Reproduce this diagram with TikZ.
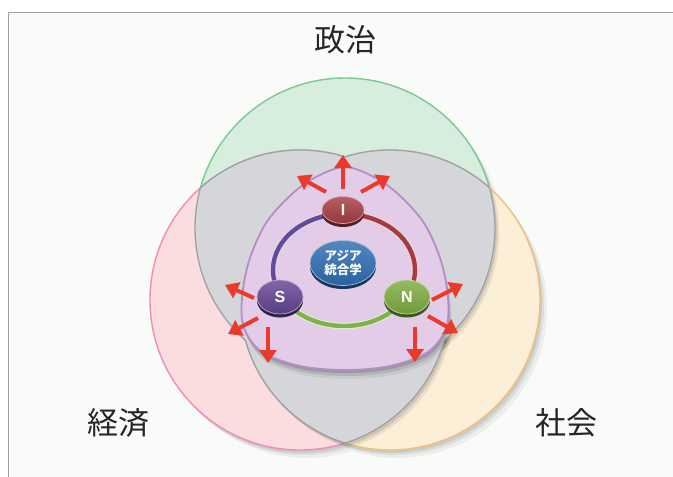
\documentclass[tikz,border=0pt]{standalone}
\usepackage{fontspec}
\newfontfamily\cjk{Noto Sans CJK JP}
\newfontfamily\lat{Liberation Sans}
\usetikzlibrary{arrows.meta,shapes.geometric}
\definecolor{frameLine}{HTML}{A0A0A0}
\definecolor{bgc}{HTML}{F9FBF9}
\definecolor{greenFill}{HTML}{D7EEDC}
\definecolor{greenLine}{HTML}{7DC892}
\definecolor{pinkFill}{HTML}{FBDDE0}
\definecolor{pinkLine}{HTML}{EE8DB9}
\definecolor{orangeFill}{HTML}{FCEFD8}
\definecolor{orangeLine}{HTML}{F2BE78}
\definecolor{grayFill}{HTML}{D5D6DA}
\definecolor{grayLine}{HTML}{9FA0A4}
\definecolor{purpleFill}{HTML}{E3CCE7}
\definecolor{purpleLine}{HTML}{B48CC8}
\definecolor{Icol}{HTML}{A63C42}
\definecolor{Scol}{HTML}{634392}
\definecolor{Ncol}{HTML}{7EAB3F}
\definecolor{Ccol}{HTML}{2F6DB1}
\definecolor{arrowRed}{HTML}{EA3A2C}
\definecolor{ringR}{HTML}{A53B3F}
\definecolor{ringG}{HTML}{7FB24A}
\definecolor{ringP}{HTML}{654A9A}
\newcommand\grayarc[3]{\begin{scope}\clip[#1];\begin{scope}[even odd rule]\clip[big][#2];\draw[grayline][#3];\end{scope}\end{scope}}
\begin{document}
\begin{tikzpicture}[x=1pt,y=-1pt,
  Pc/.style={insert path={(300,300) circle[radius=150pt]}},
  Oc/.style={insert path={(390,300) circle[radius=150pt]}},
  Gc/.style={insert path={(345,228) circle[radius=150pt]}},
  Ushape/.style={insert path={plot[smooth cycle,tension=0.55] coordinates{
    (345,167) (374,177) (398,194) (424,223) (441,261) (448,298) (446,328)
    (428,352) (390,366) (345,370) (300,366) (262,352) (244,328) (242,298)
    (249,261) (266,223) (292,194) (316,177)}}},
  big/.style={insert path={(-50,-50) rectangle (750,550)}},
  grayline/.style={draw=grayLine,line width=1.3pt},
  bigtext/.style={font=\cjk\fontsize{31}{36}\selectfont,text=black!85},
  disc/.style={ellipse,inner sep=0pt,text=white,draw=white!55!#1,line width=0.7pt,
     top color=#1!82!white,bottom color=#1!90!black,
     preaction={fill=#1!50!black,transform canvas={yshift=-3.5pt}}},
  ring/.style={line width=4.4pt,draw=#1,line cap=round,
     preaction={draw=white!80!#1,line width=6.4pt}},
  redarrow/.style={draw=arrowRed,line width=4pt,-{Triangle[width=17pt,length=13pt]}}]
\useasboundingbox (0,0) rectangle (673,477);
% frame
\fill[white] (0,0) rectangle (673,477);
\fill[bgc] (8.5,12.5) rectangle (673,477);
\draw[frameLine,line width=1.5pt] (8.5,477) -- (8.5,12.5) -- (673,12.5);
% circle shadows
\foreach \d/\o in {2/0.08,4/0.07,7/0.05}{
  \begin{scope}[shift={(\d,\d+1)}]
    \fill[black,opacity=\o][Pc][Oc][Gc];
  \end{scope}}
% circles
\filldraw[fill=greenFill,draw=greenLine,line width=1.4pt][Gc];
\filldraw[fill=pinkFill,draw=pinkLine,line width=1.4pt][Pc];
\filldraw[fill=orangeFill,draw=orangeLine,line width=1.4pt][Oc];
% gray region shadow
\foreach \d/\o in {2/0.10,4/0.08}{
\begin{scope}[shift={(\d,\d+1)}]
  \begin{scope}\clip[Pc];\fill[black,opacity=\o][Oc];\end{scope}
  \begin{scope}\clip[Pc];\fill[black,opacity=\o][Gc];\end{scope}
  \begin{scope}\clip[Oc];\fill[black,opacity=\o][Gc];\end{scope}
\end{scope}}
% gray region
\begin{scope}\clip[Pc];\fill[grayFill][Oc];\end{scope}
\begin{scope}\clip[Pc];\fill[grayFill][Gc];\end{scope}
\begin{scope}\clip[Oc];\fill[grayFill][Gc];\end{scope}
\grayarc{Gc}{Oc}{Pc}
\grayarc{Oc}{Gc}{Pc}
\grayarc{Gc}{Pc}{Oc}
\grayarc{Pc}{Gc}{Oc}
\grayarc{Pc}{Oc}{Gc}
\grayarc{Oc}{Pc}{Gc}
% purple shape shadow
\foreach \d/\o in {3/0.14,6/0.10,9/0.06}{
\begin{scope}[shift={(\d/3,\d)}]
  \fill[black,opacity=\o][Ushape];
\end{scope}}
% purple shape
\filldraw[fill=purpleFill,draw=purpleLine,line width=1.8pt][Ushape];
% ring
\coordinate (rc) at (344,270);
\draw[ring=ringP] ([shift={(90:71pt and 56pt)}]rc) arc[start angle=90,end angle=209,x radius=71pt,y radius=56pt];
\draw[ring=ringR] ([shift={(-28:71pt and 56pt)}]rc) arc[start angle=-28,end angle=90,x radius=71pt,y radius=56pt];
\draw[ring=ringG] ([shift={(209:71pt and 56pt)}]rc) arc[start angle=209,end angle=332,x radius=71pt,y radius=56pt];
% nodes
\node[disc=Ccol,minimum width=66pt,minimum height=45pt,align=center,
  font=\cjk\bfseries\fontsize{12.5}{14}\selectfont] (nC) at (343,263) {アジア\\統合学};
\node[disc=Icol,minimum width=42pt,minimum height=27pt,font=\lat\bfseries\fontsize{16}{16}\selectfont] (nI) at (343,210) {I};
\node[disc=Scol,minimum width=46pt,minimum height=34pt,font=\lat\bfseries\fontsize{16}{16}\selectfont] (nS) at (280,297) {S};
\node[disc=Ncol,minimum width=46pt,minimum height=34pt,font=\lat\bfseries\fontsize{16}{16}\selectfont] (nN) at (407,297) {N};
% arrows
\coordinate (i1s) at (343,189); \coordinate (i1t) at (343,155);
\coordinate (i2s) at (326,192); \coordinate (i2t) at (297,176);
\coordinate (i3s) at (361,192); \coordinate (i3t) at (390,176);
\coordinate (s1s) at (254,298); \coordinate (s1t) at (225,285);
\coordinate (s2s) at (258,318); \coordinate (s2t) at (228,334);
\coordinate (s3s) at (268,327); \coordinate (s3t) at (268,363);
\coordinate (n1s) at (432,300); \coordinate (n1t) at (463,284);
\coordinate (n2s) at (428,316); \coordinate (n2t) at (458,333);
\coordinate (n3s) at (415,327); \coordinate (n3t) at (415,362);
\foreach \a in {i1,i2,i3,s1,s2,s3,n1,n2,n3}
  \draw[redarrow] (\a s) -- (\a t);
% labels
\node[bigtext] (lp) at (345,40) {政治};
\node[bigtext] (le) at (118,423) {経済};
\node[bigtext] (ls) at (566,423) {社会};
\end{tikzpicture}
\end{document}
